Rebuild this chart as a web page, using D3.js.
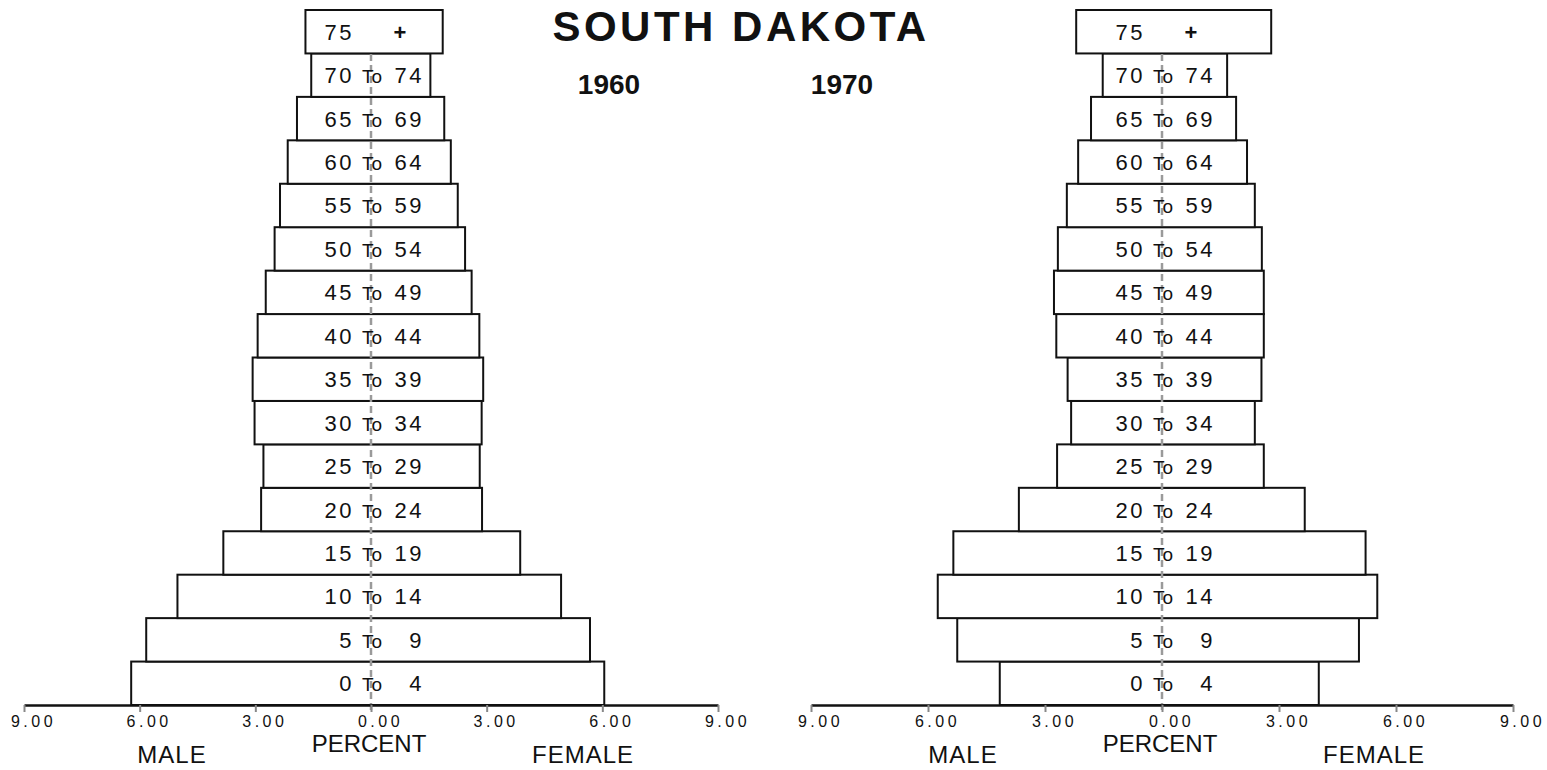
<!DOCTYPE html>
<html>
<head>
<meta charset="utf-8">
<script src="https://cdn.jsdelivr.net/npm/d3@7"></script>
<style>
  body { margin: 0; background: #fff; }
  text { font-family: "Liberation Sans", Arial, sans-serif; fill: #111; }
</style>
</head>
<body>
<script>
// age groups, bottom to top
var ageGroups = ["0-4","5-9","10-14","15-19","20-24","25-29","30-34","35-39",
                 "40-44","45-49","50-54","55-59","60-64","65-69","70-74","75+"];

// percent of total population
var male1960   = [6.22, 5.83, 5.02, 3.83, 2.85, 2.79, 3.02, 3.07, 2.94, 2.73, 2.50, 2.36, 2.16, 1.92, 1.55, 1.70];
var female1960 = [6.05, 5.68, 4.93, 3.87, 2.88, 2.82, 2.87, 2.91, 2.81, 2.61, 2.44, 2.25, 2.07, 1.90, 1.54, 1.86];
var male1970   = [4.16, 5.25, 5.75, 5.35, 3.67, 2.69, 2.33, 2.42, 2.71, 2.77, 2.67, 2.44, 2.15, 1.82, 1.52, 2.20];
var female1970 = [4.02, 5.05, 5.52, 5.22, 3.66, 2.61, 2.38, 2.55, 2.61, 2.61, 2.56, 2.38, 2.18, 1.90, 1.67, 2.80];

var tickVals = [-9, -6, -3, 0, 3, 6, 9];

var width = 1547, height = 770;

var svg = d3.select("body").append("svg")
    .attr("width", width)
    .attr("height", height);

var y = d3.scaleBand()
    .domain(ageGroups)
    .range([705, 10])
    .padding(0);

function isTop(d) { return d.age.indexOf("+") > -1; }

function pyramid(male, female, x0, x1) {
    var x = d3.scaleLinear().domain([-9, 9]).range([x0, x1]);
    var cx = x(0);
    var g = svg.append("g");

    var rows = ageGroups.map(function(a, i) {
        return {age: a, m: male[i], f: female[i]};
    });

    // boxes
    g.selectAll("rect.bar")
        .data(rows)
        .enter()
        .append("rect")
        .attr("class", "bar")
        .attr("x", function(d) { return x(-d.m); })
        .attr("y", function(d) { return y(d.age); })
        .attr("width", function(d) { return x(d.f) - x(-d.m); })
        .attr("height", y.bandwidth())
        .attr("fill", "#fff")
        .attr("stroke", "#111")
        .attr("stroke-width", 2);

    // dashed centre line
    g.append("line")
        .attr("x1", cx).attr("x2", cx)
        .attr("y1", y.range()[1] + 44).attr("y2", y.range()[0] + 6)
        .attr("stroke", "#9a9a9a")
        .attr("stroke-width", 2.5)
        .attr("stroke-dasharray", "7,4");

    // age labels
    var lab = g.selectAll("g.lab")
        .data(rows)
        .enter()
        .append("g")
        .attr("class", "lab")
        .attr("transform", function(d) { return "translate(0," + (y(d.age) + y.bandwidth() / 2 + 8) + ")"; });

    lab.append("text")
        .attr("x", cx - 17)
        .attr("text-anchor", "end")
        .style("font-size", "22px")
        .style("letter-spacing", "2.5px")
        .text(function(d) { return d.age.split(/[-+]/)[0]; });

    lab.append("text")
        .attr("x", cx + 1)
        .attr("text-anchor", "middle")
        .style("font-size", "19px")
        .text(function(d) { return isTop(d) ? "" : "To"; });

    lab.append("text")
        .attr("x", function(d) { return isTop(d) ? cx + 29 : cx + 53; })
        .attr("text-anchor", function(d) { return isTop(d) ? "middle" : "end"; })
        .style("font-size", "22px")
        .style("font-weight", function(d) { return isTop(d) ? "bold" : "normal"; })
        .style("letter-spacing", function(d) { return isTop(d) ? "0px" : "2.5px"; })
        .text(function(d) { return isTop(d) ? "+" : d.age.split("-")[1]; });

    // axis
    var axis = d3.axisBottom(x)
        .tickValues(tickVals)
        .tickSize(7)
        .tickSizeOuter(0)
        .tickFormat(function(d) { return Math.abs(d).toFixed(2); });

    var ax = g.append("g")
        .attr("transform", "translate(0,705)")
        .call(axis);
    ax.select(".domain").attr("stroke", "#111").attr("stroke-width", 2.5);
    ax.selectAll(".tick line").attr("stroke", "#888").attr("stroke-width", 2);
    ax.selectAll(".tick text")
        .attr("dx", 9)
        .attr("y", 11)
        .attr("dy", "0.71em")
        .style("font-family", "'Liberation Sans', Arial, sans-serif")
        .style("font-size", "16px")
        .style("letter-spacing", "3.5px")
        .style("fill", "#111");

    g.append("text").attr("x", cx - 199).attr("y", 763).attr("text-anchor", "middle")
        .style("font-size", "24px").style("letter-spacing", "1px").text("MALE");
    g.append("text").attr("x", cx - 2).attr("y", 752).attr("text-anchor", "middle")
        .style("font-size", "24px").text("PERCENT");
    g.append("text").attr("x", cx + 212).attr("y", 763).attr("text-anchor", "middle")
        .style("font-size", "24px").style("letter-spacing", "1px").text("FEMALE");
}

pyramid(male1960, female1960, 24, 718);
pyramid(male1970, female1970, 811, 1513);

// titles
svg.append("text")
    .attr("x", 741).attr("y", 41)
    .attr("text-anchor", "middle")
    .style("font-size", "42px")
    .style("font-weight", "bold")
    .style("letter-spacing", "3.5px")
    .text("SOUTH DAKOTA");
svg.append("text")
    .attr("x", 609).attr("y", 94)
    .attr("text-anchor", "middle")
    .style("font-size", "28px")
    .style("font-weight", "bold")
    .text("1960");
svg.append("text")
    .attr("x", 842).attr("y", 94)
    .attr("text-anchor", "middle")
    .style("font-size", "28px")
    .style("font-weight", "bold")
    .text("1970");
</script>
</body>
</html>
